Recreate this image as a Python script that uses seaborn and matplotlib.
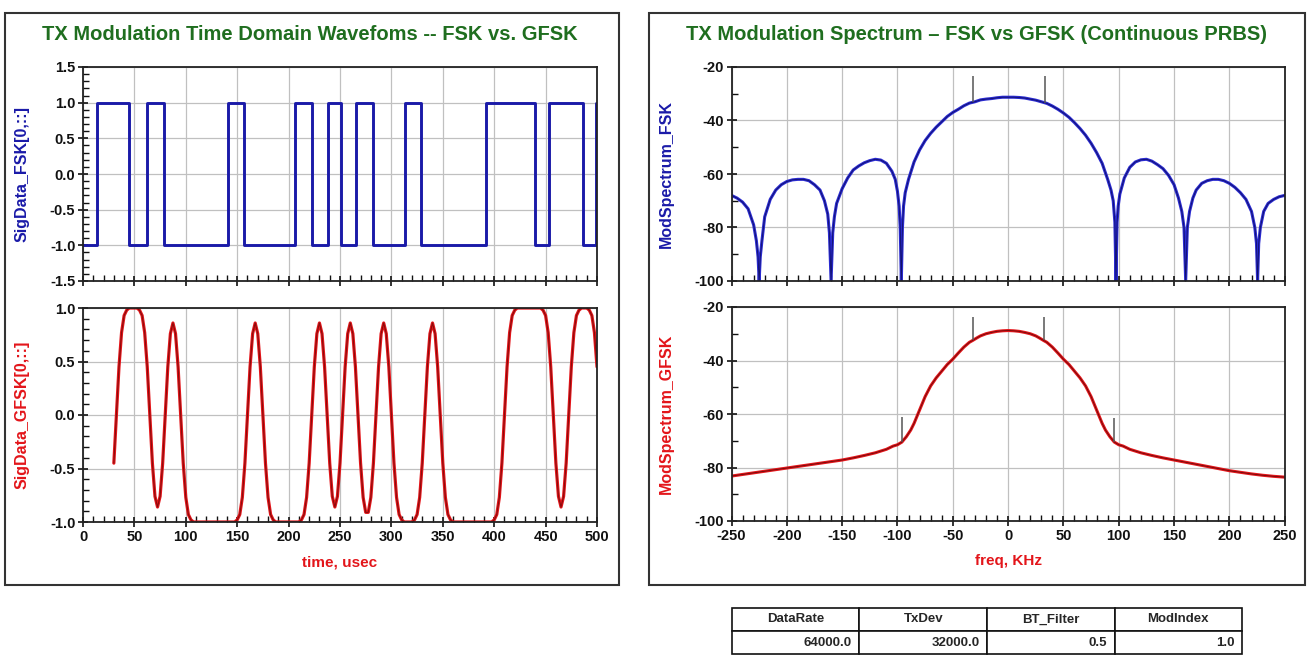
import matplotlib
matplotlib.use("Agg")
import numpy as np
import pandas as pd
import matplotlib.pyplot as plt
import seaborn as sns
from matplotlib.patches import Rectangle
from matplotlib.ticker import MultipleLocator, FormatStrFormatter

# ---- datos ----
# FSK: instantes de cambio (usec) y nivel que empieza en cada uno
fsk_t = [0, 13.4, 45, 62.7, 78.6, 141, 156.6, 206.6, 222.3, 238.8, 251, 265.7,
         282, 313, 328.7, 392.5, 439.5, 453.6, 486, 499, 500]
fsk_v = [-1, 1, -1, 1, -1, 1, -1, 1, -1, 1, -1, 1,
         -1, 1, -1, 1, -1, 1, -1, 1, 1]

# GFSK (usec, nivel)
gfsk_t = [30, 32.5, 35, 37.5, 40, 42.5, 45, 52.5, 55, 57.5, 60, 62.5, 65, 67.5, 70, 72.5,
          75, 77.5, 80, 82.5, 85, 87.5, 90, 92.5, 95, 97.5, 100, 102.5, 105, 107.5,
          147.5, 150, 152.5, 155, 157.5, 160, 162.5, 165, 167.5, 170, 172.5, 175, 177.5,
          180, 182.5, 185, 187.5, 210, 212.5, 215, 217.5, 220, 222.5, 225, 227.5, 230,
          232.5, 235, 237.5, 240, 242.5, 245, 247.5, 250, 252.5, 255, 257.5, 260, 262.5,
          265, 267.5, 270, 272.5, 275, 277.5, 280, 282.5, 285, 287.5, 290, 292.5, 295,
          297.5, 300, 302.5, 305, 307.5, 310, 312.5, 320, 322.5, 325, 327.5, 330, 332.5,
          335, 337.5, 340, 342.5, 345, 347.5, 350, 352.5, 355, 357.5, 360, 397.5, 400,
          402.5, 405, 407.5, 410, 412.5, 415, 417.5, 420, 422.5, 445, 447.5, 450, 452.5,
          455, 457.5, 460, 462.5, 465, 467.5, 470, 472.5, 475, 477.5, 480, 482.5, 485,
          490, 492.5, 495, 497.5, 500]
gfsk_v = [-0.45, 0.0, 0.45, 0.77, 0.93, 0.98, 1.0, 1.0, 0.98, 0.93, 0.77, 0.45, 0.0, -0.45, -0.76, -0.86,
          -0.76, -0.45, 0.0, 0.45, 0.76, 0.86, 0.76, 0.45, 0.0, -0.45, -0.77, -0.93, -0.98, -1.0,
          -1.0, -0.98, -0.93, -0.77, -0.45, 0.0, 0.45, 0.76, 0.86, 0.76, 0.45, 0.0, -0.45,
          -0.77, -0.93, -0.98, -1.0, -1.0, -0.98, -0.93, -0.77, -0.45, 0.0, 0.45, 0.76, 0.86,
          0.76, 0.45, 0.0, -0.45, -0.76, -0.86, -0.76, -0.45, 0.0, 0.45, 0.76, 0.86, 0.76,
          0.45, 0.0, -0.45, -0.77, -0.91, -0.91, -0.77, -0.45, 0.0, 0.45, 0.76, 0.86, 0.76,
          0.45, 0.0, -0.45, -0.77, -0.93, -0.98, -1.0, -1.0, -0.98, -0.93, -0.77, -0.45, 0.0,
          0.45, 0.76, 0.86, 0.76, 0.45, 0.0, -0.45, -0.77, -0.93, -0.98, -1.0, -1.0, -0.98,
          -0.93, -0.77, -0.45, 0.0, 0.45, 0.77, 0.93, 0.98, 1.0, 1.0, 0.98, 0.93, 0.77,
          0.45, 0.0, -0.45, -0.76, -0.86, -0.76, -0.45, 0.0, 0.45, 0.77, 0.93, 0.98, 1.0,
          1.0, 0.98, 0.93, 0.77, 0.45]

# espectro FSK (KHz, dB)
fsk_f = [-250, -245, -240, -235, -230, -227.5, -226, -225, -224, -222.5, -220, -215, -210,
         -205, -200, -195, -190, -185, -180, -175, -170, -166, -163, -161.5, -160, -158.5,
         -157, -155, -150, -145, -140, -135, -130, -125, -120, -115, -110, -105, -102, -100,
         -98.5, -97.5, -96.5, -95.5, -94.5, -93, -90, -85, -80, -75, -70, -65, -60, -55,
         -50, -45, -40, -35, -30, -25, -20, -15, -10, -5, 0, 5, 10, 15, 20, 25, 30, 35, 40,
         45, 50, 55, 60, 65, 70, 75, 80, 85, 90, 93, 95, 96.5, 97.5, 98.5, 99.5, 101, 105,
         110, 115, 120, 125, 130, 135, 140, 145, 150, 154, 157, 159, 160.5, 162, 164, 167,
         170, 175, 180, 185, 190, 195, 200, 205, 210, 215, 220, 223, 224.5, 225.5, 226.5,
         228, 231, 235, 240, 245, 250]
fsk_db = [-68, -69, -70.5, -73, -79, -85, -91, -100, -91, -85, -76, -69.5, -66,
          -64, -62.8, -62.2, -62, -62, -62.5, -64, -66, -70, -75, -82, -100, -82,
          -76, -71, -65.5, -61.5, -58.5, -57, -55.8, -55, -54.5, -54.8, -56, -59, -62, -66.5,
          -72, -80, -100, -80, -72, -67, -62, -55.5, -51, -47.5, -44.8, -42.5, -40.5, -38.5,
          -37, -35.8, -34.5, -33.5, -33, -32.3, -32, -31.8, -31.5, -31.3, -31.3, -31.3, -31.4, -31.6, -32, -32.4, -33, -33.6, -34.6,
          -35.8, -37.2, -38.8, -40.8, -43, -45.5, -48.5, -52, -56, -62, -66, -70, -78, -100, -78, -72, -67.5, -61.5,
          -57.5, -55.5, -54.7, -54.5, -55.2, -56.5, -58, -60.5, -64, -69, -74, -80, -100, -80, -74, -69,
          -66, -63.5, -62.5, -62, -62, -62.5, -63.5, -65, -67, -69.5, -74, -80, -86, -100, -86,
          -80, -74, -71, -69.5, -68.5, -68]
fsk_spk_f = [-32, 33]
fsk_spk_lo = [-33.2, -33.3]
fsk_spk_hi = [-23.5, -23.5]

# espectro GFSK (KHz, dB)
gfsk_f = [-250, -240, -230, -220, -210, -200, -190, -180, -170, -160, -150, -140, -130, -120,
          -110, -104, -100, -96, -92, -88, -85, -80, -75, -70, -65, -60, -55, -50, -45, -40,
          -35, -32, -28, -25, -20, -15, -10, -5, 0, 5, 10, 15, 20, 25, 28, 32, 35, 40, 45,
          50, 55, 60, 65, 70, 75, 80, 85, 88, 92, 96, 100, 104, 110, 120, 130, 140, 150, 160,
          170, 180, 190, 200, 210, 220, 230, 240, 250]
gfsk_db = [-83.2, -82.6, -82, -81.4, -80.8, -80.2, -79.6, -79, -78.4, -77.8, -77.2, -76.4, -75.5, -74.5,
           -73.2, -72, -71.5, -70.5, -68.5, -66, -63.5, -58.5, -53.5, -49.5, -46.5, -44, -41.5, -39.5, -37.2, -35,
           -33.2, -32.5, -31.5, -30.8, -30, -29.5, -29.1, -28.9, -28.8, -28.9, -29.1, -29.5, -30, -30.8, -31.5, -32.5, -33.2, -35, -37.2,
           -39.5, -41.5, -44, -46.5, -49.5, -53.5, -58.5, -63.5, -66, -68.5, -70.5, -71.5, -72, -73.2, -74.5, -75.5, -76.4, -77.2, -78,
           -78.8, -79.6, -80.4, -81.2, -81.8, -82.4, -82.9, -83.3, -83.6]
gfsk_spk_f = [-96, -32, 32, 96]
gfsk_spk_lo = [-70.5, -32.5, -32.5, -70.5]
gfsk_spk_hi = [-61, -23.8, -23.8, -61.5]

tabla_cols = ["DataRate", "TxDev", "BT_Filter", "ModIndex"]
tabla_vals = ["64000.0", "32000.0", "0.5", "1.0"]

AZUL = "#1a1aa8"
ROJO = "#e3151a"
VERDE = "#1f6e1f"

sns.set_theme(style="ticks")
plt.rcParams["font.family"] = ["Liberation Sans", "DejaVu Sans"]
plt.rcParams["font.weight"] = "bold"
plt.rcParams["axes.unicode_minus"] = False

W, H = 1309, 664
fig = plt.figure(figsize=(13.09, 6.64), dpi=100)
fig.patch.set_facecolor("white")


def caja(x0, y0, x1, y1):
    # coordenadas en pixeles (origen arriba a la izquierda)
    return [x0 / W, 1 - y1 / H, (x1 - x0) / W, (y1 - y0) / H]


def estilo(ax, xmaj, xmin, ymaj, ymin, fmt):
    ax.xaxis.set_major_locator(MultipleLocator(xmaj))
    ax.xaxis.set_minor_locator(MultipleLocator(xmin))
    ax.yaxis.set_major_locator(MultipleLocator(ymaj))
    ax.yaxis.set_minor_locator(MultipleLocator(ymin))
    ax.yaxis.set_major_formatter(FormatStrFormatter(fmt))
    ax.grid(True, which="major", color="#c0c0c0", lw=0.9)
    ax.set_axisbelow(True)
    ax.tick_params(which="major", direction="inout", length=7, width=1.2,
                   colors="#111111", labelsize=10.5, pad=2)
    ax.tick_params(which="minor", direction="in", length=4, width=1, colors="#111111")
    for s in ax.spines.values():
        s.set_visible(True)
        s.set_color("#222222")
        s.set_linewidth(1.3)


# ---- marcos ----
for x0, x1 in [(5, 619), (649, 1305)]:
    fig.add_artist(Rectangle((x0 / W, 1 - 585 / H), (x1 - x0) / W, 572 / H,
                             transform=fig.transFigure, fill=False,
                             ec="#333333", lw=1.5))

fig.text(310 / W, 1 - 34 / H, "TX Modulation Time Domain Wavefoms -- FSK vs. GFSK",
         ha="center", va="center", color=VERDE, fontsize=14.5, fontweight="bold")
fig.text(977 / W, 1 - 34 / H, "TX Modulation Spectrum \u2013 FSK vs GFSK (Continuous PRBS)",
         ha="center", va="center", color=VERDE, fontsize=14.5, fontweight="bold")

# ---- forma de onda FSK ----
ax1 = fig.add_axes(caja(83, 67, 597, 281))
sns.lineplot(x=fsk_t, y=fsk_v, ax=ax1, color=AZUL, lw=2.1, estimator=None,
             sort=False, drawstyle="steps-post", legend=False)
ax1.set_xlim(0, 500)
ax1.set_ylim(-1.5, 1.5)
estilo(ax1, 50, 10, 0.5, 0.1, "%.1f")
ax1.tick_params(labelbottom=False)
ax1.set_xlabel("")
ax1.set_ylabel("SigData_FSK[0,::]", color=AZUL, fontsize=11.5, fontweight="bold")
ax1.yaxis.set_label_coords(-0.104, 0.5)

# ---- forma de onda GFSK ----
ax2 = fig.add_axes(caja(83, 308, 597, 522))
sns.lineplot(x=gfsk_t, y=gfsk_v, ax=ax2, color=ROJO, lw=2.3, estimator=None,
             sort=False, legend=False)
sns.lineplot(x=gfsk_t, y=gfsk_v, ax=ax2, color="#8a0c0c", lw=0.8, estimator=None,
             sort=False, legend=False)
ax2.set_xlim(0, 500)
ax2.set_ylim(-1.0, 1.0)
estilo(ax2, 50, 10, 0.5, 0.1, "%.1f")
ax2.set_xlabel("time, usec", color=ROJO, fontsize=11, fontweight="bold")
ax2.xaxis.set_label_coords(0.5, -0.155)
ax2.set_ylabel("SigData_GFSK[0,::]", color=ROJO, fontsize=11.5, fontweight="bold")
ax2.yaxis.set_label_coords(-0.104, 0.5)

# ---- espectro FSK ----
ax3 = fig.add_axes(caja(731.5, 67, 1284.7, 281))
sns.lineplot(x=fsk_f, y=fsk_db, ax=ax3, color="#2a2ad0", lw=2.2, estimator=None,
             sort=False, legend=False)
sns.lineplot(x=fsk_f, y=fsk_db, ax=ax3, color="#10106a", lw=0.6, estimator=None,
             sort=False, legend=False)
ax3.vlines(fsk_spk_f, fsk_spk_lo, fsk_spk_hi, color="#555555", lw=1.1)
ax3.set_xlim(-250, 250)
ax3.set_ylim(-100, -20)
estilo(ax3, 50, 10, 20, 10, "%d")
ax3.tick_params(labelbottom=False)
ax3.set_xlabel("")
ax3.set_ylabel("ModSpectrum_FSK", color=AZUL, fontsize=11.5, fontweight="bold")
ax3.yaxis.set_label_coords(-0.104, 0.5)

# ---- espectro GFSK ----
ax4 = fig.add_axes(caja(731.5, 307, 1284.7, 521))
sns.lineplot(x=gfsk_f, y=gfsk_db, ax=ax4, color=ROJO, lw=2.2, estimator=None,
             sort=False, legend=False)
sns.lineplot(x=gfsk_f, y=gfsk_db, ax=ax4, color="#6a0a0a", lw=0.6, estimator=None,
             sort=False, legend=False)
ax4.vlines(gfsk_spk_f, gfsk_spk_lo, gfsk_spk_hi, color="#555555", lw=1.1)
ax4.set_xlim(-250, 250)
ax4.set_ylim(-100, -20)
estilo(ax4, 50, 10, 20, 10, "%d")
ax4.set_xlabel("freq, KHz", color=ROJO, fontsize=11, fontweight="bold")
ax4.xaxis.set_label_coords(0.5, -0.155)
ax4.set_ylabel("ModSpectrum_GFSK", color=ROJO, fontsize=11.5, fontweight="bold")
ax4.yaxis.set_label_coords(-0.104, 0.5)

# ---- tabla de parametros ----
tax = fig.add_axes(caja(732, 608, 1242, 654))
tax.axis("off")
tb = tax.table(cellText=[tabla_vals], colLabels=tabla_cols, bbox=[0, 0, 1, 1],
               cellLoc="right", colLoc="center")
tb.auto_set_font_size(False)
for (r, c), cel in tb.get_celld().items():
    cel.set_edgecolor("#111111")
    cel.set_linewidth(1.2)
    cel.get_text().set_fontsize(9.5)
    cel.get_text().set_fontweight("bold")
    if r > 0:
        cel.PAD = 0.06

fig.savefig("out.png", dpi=100, facecolor="white")
